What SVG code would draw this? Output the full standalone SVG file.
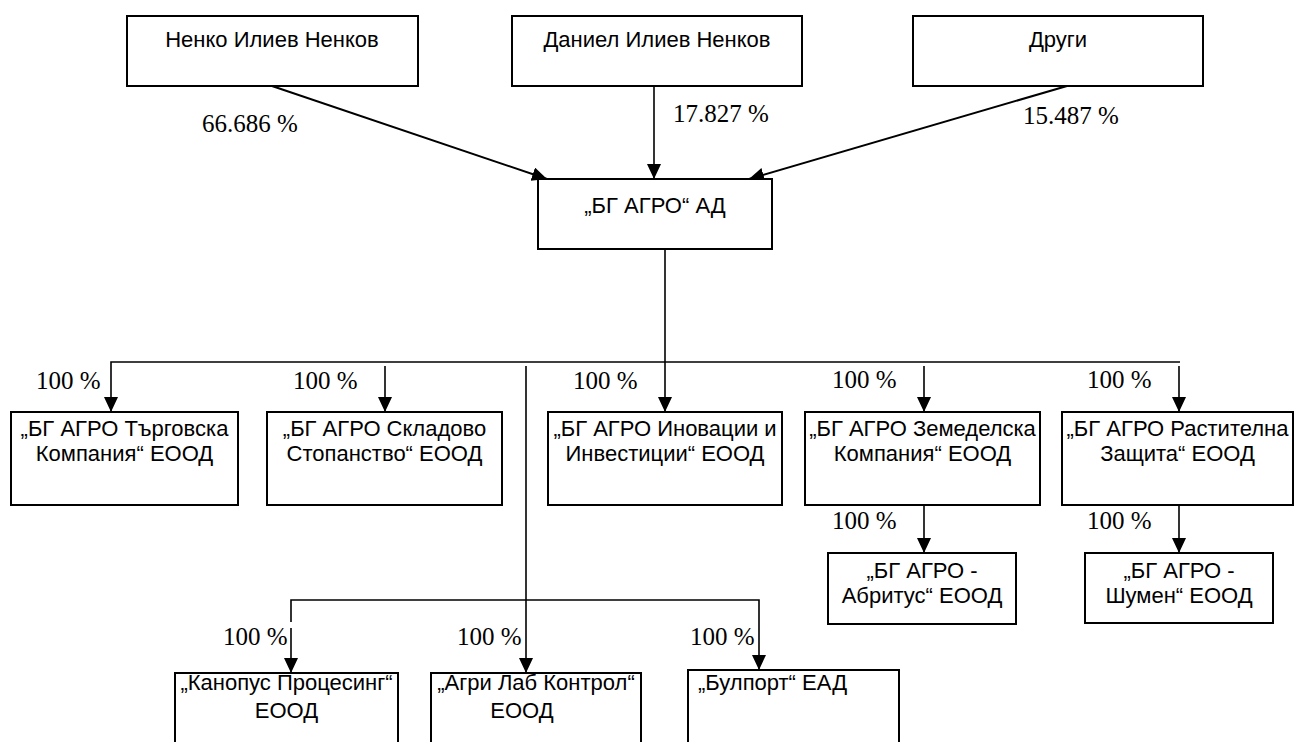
<svg xmlns="http://www.w3.org/2000/svg" width="1296" height="742" viewBox="0 0 1296 742">
<style>
.box{fill:#fff;stroke:#000;stroke-width:2}
.t{font-family:"Liberation Sans",Arial,sans-serif;font-size:22px;text-anchor:middle;fill:#000}
.p{font-family:"Liberation Serif","Times New Roman",serif;font-size:25px;fill:#000}
.c{fill:none;stroke:#000;stroke-width:1.6}
.d{fill:none;stroke:#000;stroke-width:2}
</style>
<defs>
<marker id="ah" markerUnits="userSpaceOnUse" markerWidth="16" markerHeight="16" refX="15" refY="7" orient="auto">
<path d="M0,0 L15,7 L0,14 Z" fill="#000"/>
</marker>
</defs>
<rect width="1296" height="742" fill="#fff"/>
<g id="connectors">
<path class="d" d="M272,86 L547,179" marker-end="url(#ah)"/>
<path class="c" d="M654,86 V179" marker-end="url(#ah)"/>
<path class="d" d="M1067,86 L749,179" marker-end="url(#ah)"/>
<path class="c" d="M665,249 V412" marker-end="url(#ah)"/>
<path class="c" d="M1180,362 H111 V412" marker-end="url(#ah)"/>
<path class="c" d="M385,366 V412" marker-end="url(#ah)"/>
<path class="c" d="M924,366 V412" marker-end="url(#ah)"/>
<path class="c" d="M1179,366 V412" marker-end="url(#ah)"/>
<path class="c" d="M924,505 V553" marker-end="url(#ah)"/>
<path class="c" d="M1179,505 V553" marker-end="url(#ah)"/>
<path class="c" d="M526,366 V673" marker-end="url(#ah)"/>
<path class="c" d="M291,622 V600 H759 V670" marker-end="url(#ah)"/>
<path class="c" d="M291,628 V673" marker-end="url(#ah)"/>
</g>
<g id="labels">
<text class="p" x="202" y="132">66.686 %</text>
<text class="p" x="673" y="122">17.827 %</text>
<text class="p" x="1023" y="124">15.487 %</text>
<text class="p" x="36" y="389">100 %</text>
<text class="p" x="293" y="389">100 %</text>
<text class="p" x="573" y="389">100 %</text>
<text class="p" x="832" y="388">100 %</text>
<text class="p" x="1087" y="388">100 %</text>
<text class="p" x="832" y="529">100 %</text>
<text class="p" x="1087" y="529">100 %</text>
<text class="p" x="223" y="645">100 %</text>
<text class="p" x="457" y="645">100 %</text>
<text class="p" x="690" y="645">100 %</text>
</g>
<g id="n1"><rect class="box" x="127" y="16" width="291" height="70"/><text class="t" x="272" y="47">Ненко Илиев Ненков</text></g>
<g id="n2"><rect class="box" x="512" y="16" width="290" height="70"/><text class="t" x="657" y="47">Даниел Илиев Ненков</text></g>
<g id="n3"><rect class="box" x="913" y="16" width="290" height="70"/><text class="t" x="1058" y="47">Други</text></g>
<g id="bgagro"><rect class="box" x="538" y="179" width="234" height="70"/><text class="t" x="655" y="213">„БГ АГРО“ АД</text></g>
<g id="targovska"><rect class="box" x="11" y="412" width="227" height="93"/><text class="t" x="124.5" y="436">„БГ АГРО Търговска</text><text class="t" x="124.5" y="461">Компания“ ЕООД</text></g>
<g id="skladovo"><rect class="box" x="267" y="412" width="235" height="93"/><text class="t" x="384.5" y="436">„БГ АГРО Складово</text><text class="t" x="384.5" y="461">Стопанство“ ЕООД</text></g>
<g id="inovacii"><rect class="box" x="548" y="412" width="234" height="93"/><text class="t" x="665" y="436">„БГ АГРО Иновации и</text><text class="t" x="665" y="461">Инвестиции“ ЕООД</text></g>
<g id="zemedelska"><rect class="box" x="805" y="412" width="235" height="93"/><text class="t" x="922.5" y="436">„БГ АГРО Земеделска</text><text class="t" x="922.5" y="461">Компания“ ЕООД</text></g>
<g id="rastitelna"><rect class="box" x="1062" y="412" width="231" height="93"/><text class="t" x="1177.5" y="436">„БГ АГРО Растителна</text><text class="t" x="1177.5" y="461">Защита“ ЕООД</text></g>
<g id="abritus"><rect class="box" x="828" y="553" width="188" height="71"/><text class="t" x="922" y="578">„БГ АГРО -</text><text class="t" x="922" y="603">Абритус“ ЕООД</text></g>
<g id="shumen"><rect class="box" x="1085" y="553" width="188" height="70"/><text class="t" x="1179" y="578">„БГ АГРО -</text><text class="t" x="1179" y="603">Шумен“ ЕООД</text></g>
<g id="kanopus"><rect class="box" x="175" y="673" width="223" height="80"/><text class="t" x="286.5" y="690">„Канопус Процесинг“</text><text class="t" x="286.5" y="718">ЕООД</text></g>
<g id="agrilab"><rect class="box" x="431" y="673" width="210" height="80"/><text class="t" x="536" y="690">„Агри Лаб Контрол“</text><text class="t" x="522" y="718">ЕООД</text></g>
<g id="bulport"><rect class="box" x="688" y="670" width="211" height="83"/><text class="t" x="698" y="690" style="text-anchor:start">„Булпорт“ ЕАД</text></g>
</svg>
